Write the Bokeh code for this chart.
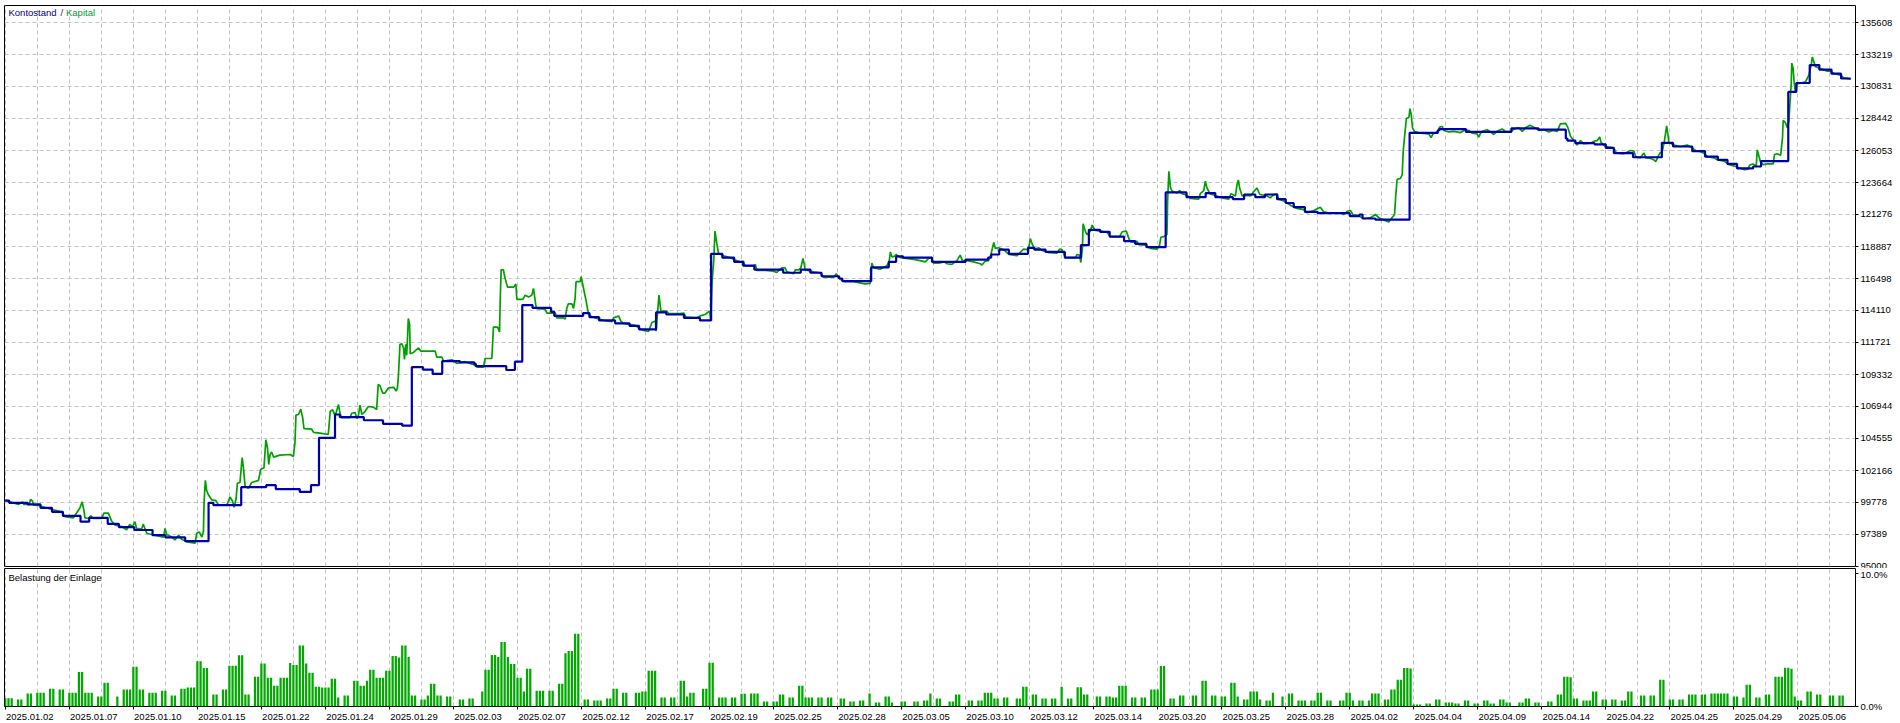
from bokeh.plotting import figure
from bokeh.models import (Range1d, LinearAxis, FixedTicker, Grid, Label,
                          CustomJSTickFormatter)
from bokeh.layouts import column
from bokeh.embed import file_html
from bokeh.resources import INLINE

# ---------------- data ----------------
y_ticks = [95000, 97389, 99778, 102166, 104555, 106944, 109332, 111721, 114110,
           116498, 118887, 121276, 123664, 126053, 128442, 130831, 133219, 135608]

date_labels = ["2025.01.02", "2025.01.07", "2025.01.10", "2025.01.15", "2025.01.22",
               "2025.01.24", "2025.01.29", "2025.02.03", "2025.02.07", "2025.02.12",
               "2025.02.17", "2025.02.19", "2025.02.25", "2025.02.28", "2025.03.05",
               "2025.03.10", "2025.03.12", "2025.03.14", "2025.03.20", "2025.03.25",
               "2025.03.28", "2025.04.02", "2025.04.04", "2025.04.09", "2025.04.14",
               "2025.04.22", "2025.04.25", "2025.04.29", "2025.05.06"]

# balance (Kontostand): deal position where it changes, value after change
balance_x = [0, 1.2, 7, 11, 14.6, 18, 23.5, 26.2, 32, 35.5, 40.3, 46, 50, 56.2, 63.5, 65,
             73.7, 81.5, 84.5, 92, 95.5, 98, 103, 104.5, 112, 118, 124, 127, 130.5, 133.5,
             136.5, 142, 146.5, 147, 156.5, 159.2, 161.5, 164.7, 170.5, 171.5, 180.5, 182.5,
             185.5, 190.5, 195, 198, 203.3, 206.5, 212, 217, 220.5, 224, 227.7, 230.5, 234,
             243, 248.5, 251.5, 255, 260.5, 261.5, 270.5, 276, 278.3, 280.5, 289.5, 300, 307,
             308, 310.5, 313.5, 319.5, 321.5, 325, 331, 336, 338.5, 342, 345, 349.5, 353,
             356.5, 362.5, 369, 375, 378, 383.5, 387, 390.5, 393.5, 397.3, 400, 402.5, 406,
             410, 420, 423, 424, 428, 438.7, 447.5, 448, 456.3, 470.5, 479, 487.5, 488,
             490.5, 496.5, 500, 502.5, 508.5, 517.5, 521, 527, 531, 535, 538, 541, 546,
             548.5, 557, 559.5, 563.7, 566.7, 570.5, 573.5, 576.5]
balance_v = [99921, 99754, 99634, 99371, 99085, 98774, 98344, 98631, 98177, 97938, 97723,
             97341, 97174, 96887, 99754, 99586, 100924, 101067, 100781, 100566, 101067,
             104603, 106346, 106155, 105916, 105654, 105510, 109882, 109691, 109380, 110335,
             110240, 110120, 109953, 109667, 110288, 114516, 114301, 114014, 113704, 113918,
             113608, 113369, 113154, 112963, 112700, 113966, 113811, 113560, 113369, 118338,
             118051, 117740, 117454, 117167, 116928, 117167, 116928, 116665, 116498, 116307,
             117334, 117740, 118147, 118051, 117740, 117908, 118051, 118290, 118648, 118338,
             118791, 118648, 118481, 118051, 118983, 120129, 119986, 119627, 119293, 119078,
             118839, 122924, 122566, 122876, 122566, 122422, 122769, 122566, 122769, 122422,
             122136, 121825, 121467, 121371, 121156, 121276, 120977, 120893, 127367, 127546,
             127654, 127438, 127701, 127606, 126949, 126794, 126603, 126507, 126244, 125862,
             125551, 126626, 126352, 126005, 125599, 125360, 125050, 124715, 124859, 125265,
             130424, 131093, 132431, 132097, 131786, 131428, 131428]

# equity (Kapital)
equity_x = [0, 1.5, 4.1, 5.4, 5.8, 7.5, 7.9, 8.5, 8.8, 10.8, 12.9, 15.0, 17.6, 18.6, 21.3,
            22.1, 23.3, 24.0, 24.6, 24.9, 25.9, 26.7, 27.5, 30.1, 30.8, 32.2, 33.2, 34.3,
            36.4, 37.9, 38.8, 39.8, 40.5, 41.0, 42.6, 43.1, 43.6, 44.2, 45.7, 47.3, 49.4,
            49.9, 50.4, 52.0, 53.0, 54.1, 55.1, 56.7, 59.3, 59.8, 60.6, 61.4, 61.9, 62.1,
            62.5, 62.9, 63.4, 64.5, 65.8, 66.6, 69.2, 70.2, 71.0, 71.5, 72.1, 72.5, 73.3,
            74.0, 74.4, 74.9, 75.9, 77.0, 79.1, 79.8, 80.8, 81.4, 81.9, 82.3, 82.7, 83.2,
            83.8, 85.8, 89.0, 90.0, 90.5, 90.8, 91.6, 92.3, 92.9, 93.3, 95.7, 96.3, 98.3,
            100.9, 101.5, 102.3, 102.7, 103.3, 104.1, 104.6, 105.1, 107.7, 108.2, 109.3,
            109.8, 110.3, 110.8, 111.4, 112.4, 113.4, 115.0, 116.0, 116.5, 117.1, 117.9,
            118.6, 119.7, 121.3, 122.1, 122.5, 122.8, 123.3, 123.9, 124.4, 124.7, 125.1,
            125.4, 125.7, 125.9, 126.3, 126.5, 127.5, 129.1, 129.8, 134.3, 134.8, 136.4,
            136.9, 139.5, 141.0, 143.6, 146.3, 147.5, 149.4, 149.9, 152.0, 152.5, 153.8,
            154.4, 154.6, 154.9, 155.6, 156.1, 156.9, 158.8, 159.5, 159.8, 161.7, 162.4,
            163.5, 164.5, 165.0, 165.7, 166.0, 168.6, 169.2, 171.8, 172.3, 174.4, 174.9,
            175.4, 175.9, 177.0, 177.5, 178.0, 178.3, 179.6, 179.9, 180.6, 181.5, 182.2,
            183.5, 186.9, 189.5, 190.0, 191.6, 192.3, 193.1, 196.8, 197.9, 199.4, 201.0,
            202.0, 203.1, 203.3, 203.8, 204.2, 204.8, 206.7, 207.2, 210.8, 211.9, 212.7,
            216.0, 217.1, 218.6, 220.0, 220.4, 220.8, 221.3, 221.7, 222.3, 222.8, 224.4,
            226.5, 228.0, 229.6, 230.6, 231.1, 233.8, 234.3, 234.8, 237.4, 240.0, 241.0,
            242.6, 243.6, 244.2, 246.3, 246.8, 247.8, 248.5, 249.2, 249.6, 249.9, 252.5,
            254.6, 255.6, 258.8, 259.6, 260.3, 261.4, 262.4, 265.0, 268.6, 270.2, 270.7,
            271.3, 273.3, 275.4, 276.1, 276.5, 277.0, 277.7, 278.3, 279.6, 283.8, 285.8,
            287.4, 288.4, 289.5, 290.0, 291.6, 293.3, 294.2, 295.7, 297.3, 298.3, 299.0,
            300.4, 302.5, 304.6, 305.1, 306.1, 307.2, 307.9, 308.8, 309.3, 310.3, 311.9,
            313.5, 316.0, 318.1, 319.2, 319.8, 320.2, 320.8, 321.5, 322.9, 323.9, 326.0,
            328.5, 329.4, 330.1, 331.2, 334.3, 334.8, 335.6, 336.0, 336.5, 336.7, 337.4,
            337.9, 339.0, 339.5, 340.5, 342.1, 344.2, 345.2, 348.1, 348.9, 350.2, 351.0,
            351.5, 353.0, 353.5, 354.1, 356.1, 356.9, 357.7, 359.8, 360.6, 361.0, 361.9,
            362.9, 363.1, 363.5, 364.0, 364.5, 366.0, 366.9, 367.6, 369.2, 370.2, 372.8,
            373.3, 374.4, 374.9, 375.4, 376.3, 378.5, 380.1, 382.2, 382.9, 384.3, 384.8,
            385.2, 385.6, 386.4, 387.9, 389.0, 389.8, 391.0, 391.9, 394.2, 395.2, 396.3,
            397.3, 397.8, 399.4, 401.5, 403.5, 405.6, 406.7, 408.8, 410.8, 411.9, 414.0,
            417.1, 418.1, 419.2, 420.2, 421.0, 422.3, 424.4, 426.5, 428.0, 429.1, 430.6,
            432.2, 433.2, 434.0, 434.4, 434.8, 435.8, 436.4, 436.7, 437.1, 437.7, 438.5,
            438.8, 439.2, 439.6, 440.2, 442.1, 444.7, 445.4, 446.0, 447.3, 448.1, 448.9,
            449.4, 451.0, 452.5, 454.6, 456.1, 457.2, 458.2, 459.8, 460.3, 461.0, 461.4,
            462.9, 464.0, 465.0, 466.0, 467.6, 468.6, 470.2, 471.3, 472.8, 473.9, 474.9,
            476.3, 477.5, 479.1, 480.7, 482.2, 483.3, 484.8, 485.8, 487.4, 488.1, 489.0,
            490.0, 491.0, 492.1, 493.1, 495.2, 496.3, 497.3, 498.1, 498.5, 499.9, 502.5,
            503.3, 505.6, 507.7, 508.8, 509.3, 510.8, 511.9, 512.5, 514.0, 515.0, 515.6,
            516.3, 516.9, 517.6, 518.3, 519.0, 519.4, 519.7, 521.3, 523.3, 525.4, 527.0,
            528.0, 529.6, 530.6, 531.7, 533.8, 534.8, 536.9, 538.5, 540.0, 541.7, 543.3,
            544.4, 544.9, 545.9, 547.0, 547.3, 547.7, 548.3, 549.1, 550.6, 552.3, 552.7,
            553.5, 554.6, 555.2, 555.4, 556.1, 556.7, 557.2, 557.5, 557.9, 558.1, 558.5,
            558.8, 559.2, 559.8, 562.4, 562.9, 563.5, 564.2, 564.5, 565.0, 565.5, 566.6,
            568.1, 569.2, 570.2, 571.3, 573.3, 574.4, 576.5]
equity_v = [99968, 99825, 99634, 99825, 99634, 99634, 100016, 99873, 99586, 99539, 99371,
            99228, 99085, 98726, 98631, 98941, 99371, 99825, 99132, 98631, 98583, 98774,
            98583, 98583, 98989, 98989, 98392, 98081, 97986, 97737, 98129, 97986, 98344,
            97843, 97795, 98177, 97843, 97484, 97389, 97293, 97198, 97843, 97389, 97198,
            96983, 97341, 97030, 96839, 96744, 97484, 97580, 97198, 97628, 99873, 101426,
            100673, 100375, 99968, 99921, 99586, 99586, 100183, 99873, 99419, 100076,
            101211, 101270, 103122, 102357, 101019, 100828, 101270, 101426, 102262, 102357,
            104459, 103862, 102620, 103360, 103551, 103169, 103313, 103360, 103217, 104256,
            106299, 106346, 106752, 106107, 105295, 105248, 105009, 104961, 104853, 106585,
            106705, 106394, 106442, 107087, 106394, 106107, 106107, 106442, 106490, 106048,
            106251, 107039, 106346, 106585, 106944, 106896, 106705, 108592, 108472, 107947,
            107947, 108329, 108377, 108090, 108329, 109189, 111578, 111625, 111315, 110455,
            111578, 110765, 112318, 113512, 113058, 110885, 110980, 111315, 111076, 111076,
            110622, 110622, 110335, 110431, 110168, 110288, 110073, 109882, 109882, 110527,
            110527, 112868, 112868, 112509, 114802, 117143, 117143, 116546, 115853, 115853,
            116092, 114946, 114946, 115256, 115113, 115256, 115758, 114564, 114253, 114205,
            113918, 113918, 113560, 113560, 113465, 114253, 114611, 114611, 114253, 115005,
            116259, 116259, 116641, 115805, 114754, 113811, 113608, 113369, 113274, 113560,
            113704, 113321, 113154, 113011, 112772, 112617, 112557, 113214, 113321, 112557,
            114062, 115256, 114062, 114062, 113871, 113871, 113918, 113608, 113560, 113704,
            113811, 114062, 113369, 116307, 117788, 120033, 119078, 118385, 118194, 118051,
            117884, 117740, 117788, 117430, 117430, 117549, 117095, 117095, 117047, 116952,
            117286, 117286, 117000, 116856, 117143, 117143, 117286, 117991, 117549, 117143,
            117000, 116928, 116594, 116594, 116856, 116546, 116355, 116259, 116259, 116092,
            116140, 117645, 117286, 117191, 117454, 117740, 118481, 118099, 118147, 118290,
            118051, 117932, 117836, 117740, 117991, 118051, 117645, 117645, 117740, 117597,
            117549, 117836, 118242, 117836, 117836, 117740, 117597, 117502, 117788, 117836,
            118290, 119186, 118743, 118791, 118648, 118290, 118194, 118696, 118648, 118887,
            119484, 119078, 118696, 118791, 118588, 118433, 118385, 118696, 118648, 118051,
            118051, 118290, 118242, 117693, 118791, 120583, 120033, 119782, 120033, 120487,
            120081, 120033, 119938, 119627, 119627, 119986, 120033, 119484, 119245, 119186,
            119293, 119030, 118983, 118887, 118743, 118696, 118983, 119580, 119627, 119782,
            122279, 124500, 123258, 123019, 122876, 123067, 122828, 122709, 122470, 122422,
            122828, 123067, 123760, 123258, 122828, 122661, 122518, 122422, 122828, 122661,
            123521, 123855, 123258, 122661, 122709, 122661, 122924, 123258, 122769, 122661,
            122518, 122769, 122828, 122422, 122279, 121968, 121730, 121634, 121419, 121574,
            121825, 121467, 121371, 121371, 121276, 121515, 121574, 121276, 121228, 120977,
            121037, 121276, 121037, 120870, 120726, 121037, 121276, 122769, 123903, 123963,
            124261, 126005, 127009, 128442, 128537, 129182, 128740, 127749, 127486, 127343,
            127295, 127009, 127295, 127438, 127797, 127845, 127546, 127438, 127486, 127391,
            127606, 127546, 127343, 127295, 127057, 127391, 127486, 127606, 127438, 127247,
            127486, 127654, 127486, 127438, 127654, 127749, 127486, 127749, 127940, 127797,
            127546, 127606, 127438, 127546, 127486, 128036, 128084, 127797, 127104, 126794,
            126459, 126794, 126555, 126603, 126746, 126794, 127057, 126650, 126352, 126244,
            125862, 125814, 126053, 126005, 125599, 125504, 125862, 125504, 125456, 125360,
            125217, 125599, 125862, 125957, 126746, 127892, 127247, 126650, 126459, 126352,
            126459, 126244, 126053, 125957, 125862, 125599, 125504, 125360, 125265, 125002,
            124907, 124763, 124620, 124668, 124955, 125050, 124907, 126101, 125754, 125217,
            125002, 125050, 125050, 125754, 125814, 125694, 127009, 128299, 128143, 127749,
            128251, 129493, 130926, 132574, 132216, 131237, 130424, 131021, 131188, 131428,
            131726, 132479, 133029, 132670, 132311, 132216, 132073, 131977, 131977, 131786,
            131667, 131476, 131380]

# Belastung der Einlage (%), one value per deal slot
load_pct = [
    0.62, 0.62, 0.62, 0, 0.52, 0.52, 0, 0.97, 0.97, 0,
    1.04, 1.04, 1.04, 0, 1.34, 1.34, 0, 1.27, 1.27, 0,
    1.04, 1.04, 1.04, 2.6, 2.6, 1.04, 1.04, 1.04, 0, 0.75,
    0.75, 1.79, 1.79, 0, 0, 0.75, 0, 1.27, 1.27, 1.27,
    2.99, 2.99, 1.27, 1.27, 0, 1.04, 1.04, 1.04, 0, 1.19,
    1.19, 0, 0.82, 0.82, 0, 1.34, 1.34, 1.42, 1.42, 1.42,
    3.4, 3.4, 2.9, 2.9, 0, 0.9, 0.9, 0, 1.27, 1.27,
    3.06, 3.06, 3.06, 3.86, 3.86, 0.9, 0.9, 0, 2.24, 2.24,
    3.23, 3.23, 2.16, 2.16, 1.57, 1.57, 2.16, 2.16, 2.16, 3.28,
    3.13, 3.13, 4.58, 4.58, 3.23, 2.54, 2.54, 1.49, 1.49, 1.42,
    1.42, 1.42, 2.09, 2.09, 0.67, 0, 0.82, 0.82, 0, 1.94,
    1.94, 1.57, 1.57, 1.94, 2.76, 2.76, 2.16, 2.16, 2.16, 2.69,
    2.69, 3.8, 3.8, 3.68, 4.58, 4.58, 3.73, 0.82, 0.82, 0,
    0.52, 0.52, 0.82, 1.72, 1.72, 0.82, 0.82, 0, 0.75, 0.75,
    0, 0, 0.52, 0.52, 0, 0.6, 0.6, 0, 0, 1.12,
    2.76, 2.76, 3.88, 3.88, 3.73, 4.85, 4.85, 3.73, 3.2, 3.2,
    2.16, 2.16, 1.12, 2.84, 2.84, 0, 1.19, 1.19, 1.19, 0,
    1.19, 1.19, 0, 1.72, 1.72, 4.0, 4.18, 4.18, 5.47, 5.47,
    0, 0.52, 0.52, 0, 0.45, 0.45, 0.45, 0, 0.6, 0.6,
    1.34, 1.34, 0, 1.04, 1.04, 0, 0, 1.04, 1.04, 1.12,
    1.12, 2.69, 2.69, 2.69, 0, 0.67, 0.67, 0, 0.67, 0.67,
    0, 1.94, 1.94, 0.75, 1.04, 1.04, 0, 0, 1.34, 1.34,
    3.3, 3.3, 0, 0.67, 0.67, 0.67, 0, 0.67, 0.67, 0,
    0.95, 0.95, 0, 0.97, 0.97, 0.97, 0, 0.37, 0.37, 0,
    0.37, 0.37, 0.9, 0.9, 0, 0.67, 0.67, 0, 1.57, 1.57,
    0.67, 0.67, 0.67, 0, 0.67, 0.67, 0, 0.67, 0.67, 0,
    0, 0.6, 0.6, 0, 0.37, 0.37, 0, 0.45, 0.45, 0,
    0.97, 0, 0.3, 0.3, 0, 0.75, 0.75, 0.3, 0, 0,
    0.37, 0.37, 0, 0, 0.37, 0.37, 0, 0.45, 0.45, 0.97,
    0, 0.6, 0.6, 0, 0, 0.37, 0.37, 0.9, 0.9, 0,
    0, 0.45, 0.45, 0, 0.45, 0.45, 1.04, 1.04, 1.04, 0.6,
    0.6, 0, 0.67, 0.67, 0, 0, 0.6, 0.6, 1.49, 1.49,
    0, 0.9, 0.9, 0, 0.6, 0.6, 0, 0.6, 0.6, 0,
    1.49, 0, 0.6, 0.6, 0, 1.45, 1.45, 0.9, 0.9, 0,
    0, 0.75, 0.75, 0, 0.75, 0.75, 0.67, 0.67, 1.57, 1.57,
    1.57, 0, 0.67, 0.67, 0, 0.67, 0.67, 0, 1.27, 1.27,
    1.27, 3.05, 3.05, 0, 0.6, 0.6, 0, 0.82, 0.82, 0,
    0, 0.82, 0.82, 0, 1.94, 1.94, 0, 0.82, 0.82, 0,
    0.75, 0.75, 0, 1.79, 1.79, 0.75, 0, 0.52, 0.52, 1.12,
    1.12, 1.12, 0.52, 0, 0.45, 0.45, 1.04, 0, 0, 0.75,
    0, 0.97, 0.97, 0, 0.45, 0.45, 0.45, 0, 0.45, 0.45,
    1.04, 1.04, 0, 0.45, 0.45, 0, 0, 0.45, 0.45, 1.04,
    1.04, 0.45, 0, 0.45, 0.45, 0, 0.45, 0.97, 0.97, 0.97,
    0, 0.52, 0.52, 1.27, 1.27, 2.01, 2.01, 2.9, 2.9, 2.86,
    0.15, 0.15, 0.15, 0, 0.22, 0.22, 0, 0.52, 0.52, 0,
    0.3, 0.3, 0.3, 0.22, 0.22, 0, 0.45, 0.45, 0, 0.22,
    0.22, 0, 0.45, 0.45, 0.22, 0.22, 0, 0.52, 0.52, 0.3,
    0.3, 0, 0, 0.3, 0.3, 0.6, 0.6, 0, 0.3, 0.3,
    0, 0, 0.37, 0.37, 0, 0.9, 0.9, 2.24, 2.24, 2.2,
    0.6, 0.6, 0, 0.45, 0.45, 0.45, 1.12, 1.12, 0, 0.52,
    0.52, 0, 0.52, 0.52, 0, 0.45, 0.45, 1.12, 1.12, 0,
    0, 0.82, 0.82, 0, 0.82, 0.82, 0, 2.01, 2.01, 0,
    0.52, 0.52, 0, 0.52, 0.52, 0, 0.9, 0.9, 0.9, 0,
    0.9, 0.9, 0, 0.97, 0.97, 0.97, 0.97, 0.97, 0.97, 0,
    0.75, 0.75, 0, 0.67, 1.64, 1.64, 0, 0.67, 0.67, 0,
    0.9, 0.9, 0, 2.24, 2.24, 2.24, 2.91, 2.91, 2.84, 0.75,
    0.45, 0.45, 0, 1.12, 1.12, 0, 0.9, 0.9, 0, 0,
    0.82, 0.82, 0, 0.82, 0.82, 0, 0,
]
deal_idx = list(range(len(load_pct)))

# ---------------- style / layout ----------------
FONT = "Liberation Sans"
FS = "9.5px"
BLUE = "#0000A8"
GREEN = "#00A000"
BAR_GREEN = "#00A800"
GRID_C = "#C4C4C4"
GRID_D = "4 3"

X0, X1 = -0.25, 578.0
FW = 1851
H1, H2 = 561, 138
Y1_0, Y1_1 = 95000, 136877
Y2_0, Y2_1 = 0, 10.38
px_x = FW / (X1 - X0)

grid_x = list(range(0, 580, 10))
label_step = 20
label_off = (1 + 23.5) / px_x  # left-align labels at their tick


def base_fig(h, yr, top_border):
    p = figure(frame_width=FW, frame_height=h, x_range=Range1d(X0, X1), y_range=yr,
               x_axis_location=None, y_axis_location=None, toolbar_location=None,
               tools="", output_backend="svg", title=None,
               min_border_left=4, min_border_top=top_border, min_border_right=0,
               min_border_bottom=0)
    # drop the default auto grids
    p.center = [r for r in p.center if not isinstance(r, Grid)]
    p.outline_line_color = "black"
    p.outline_line_width = 1
    p.background_fill_color = "white"
    p.border_fill_color = "white"
    p.add_layout(Grid(dimension=0, ticker=FixedTicker(ticks=grid_x),
                      grid_line_color=GRID_C, grid_line_dash=GRID_D, grid_line_width=1))
    return p


def right_axis(ticks, formatter):
    ax = LinearAxis(ticker=FixedTicker(ticks=ticks), formatter=formatter)
    ax.axis_line_color = None
    ax.major_tick_out = 3
    ax.major_tick_in = 0
    ax.major_tick_line_color = "black"
    ax.minor_tick_line_color = None
    ax.major_label_standoff = 2
    ax.major_label_text_font = FONT
    ax.major_label_text_font_size = FS
    ax.major_label_text_color = "black"
    return ax


# top panel
p1 = base_fig(H1, Range1d(Y1_0, Y1_1), 5)
p1.min_border_bottom = 2
p1.add_layout(Grid(dimension=1, ticker=FixedTicker(ticks=y_ticks),
                   grid_line_color=GRID_C, grid_line_dash=GRID_D, grid_line_width=1))
p1.add_layout(right_axis(y_ticks, CustomJSTickFormatter(code="return Math.round(tick).toString();")),
              "right")

p1.line(equity_x, equity_v, line_color=GREEN, line_width=1.7)
p1.step(balance_x, balance_v, mode="after", line_color=BLUE, line_width=2.2)

py1 = H1 / (Y1_1 - Y1_0)
ly = Y1_1 - 7 / py1
for txt, off, col in [("Kontostand", 4.0, "#000080"), ("/", 56.0, "#202060"),
                      ("Kapital", 61.5, "#009A30")]:
    p1.add_layout(Label(x=X0 + off / px_x, y=ly, text=txt, text_font=FONT,
                        text_font_size=FS, text_color=col, text_baseline="middle",
                        text_align="left"))

# lower panel
p2 = base_fig(H2, Range1d(Y2_0, Y2_1), 0)
p2.add_layout(right_axis([0, 10], CustomJSTickFormatter(code="return tick.toFixed(1) + '%';")),
              "right")
p2.vbar(x=deal_idx, top=load_pct, bottom=0, width=0.7, fill_color=BAR_GREEN,
        line_color=None)

py2 = H2 / (Y2_1 - Y2_0)
p2.add_layout(Label(x=X0 + 4.0 / px_x, y=Y2_1 - 9 / py2, text="Belastung der Einlage",
                    text_font=FONT, text_font_size=FS, text_color="black",
                    text_baseline="middle", text_align="left"))

xt = FixedTicker(ticks=[label_step * j + label_off for j in range(len(date_labels))],
                 minor_ticks=[label_step * j for j in range(len(date_labels))])
xfmt = CustomJSTickFormatter(args=dict(labels=date_labels, off=label_off, step=label_step),
                             code="""
const j = Math.round((tick - off) / step);
return (j >= 0 && j < labels.length) ? labels[j] : "";
""")
xa = LinearAxis(ticker=xt, formatter=xfmt)
xa.axis_line_color = None
xa.major_tick_line_color = None
xa.major_tick_out = 0
xa.major_tick_in = 0
xa.minor_tick_line_color = "black"
xa.minor_tick_out = 3
xa.minor_tick_in = 0
xa.major_label_standoff = 4
xa.major_label_text_font = FONT
xa.major_label_text_font_size = FS
xa.major_label_text_color = "black"
p2.add_layout(xa, "below")

layout = column(p1, p2, spacing=0)
open("out.html", "w").write(file_html(layout, INLINE))
